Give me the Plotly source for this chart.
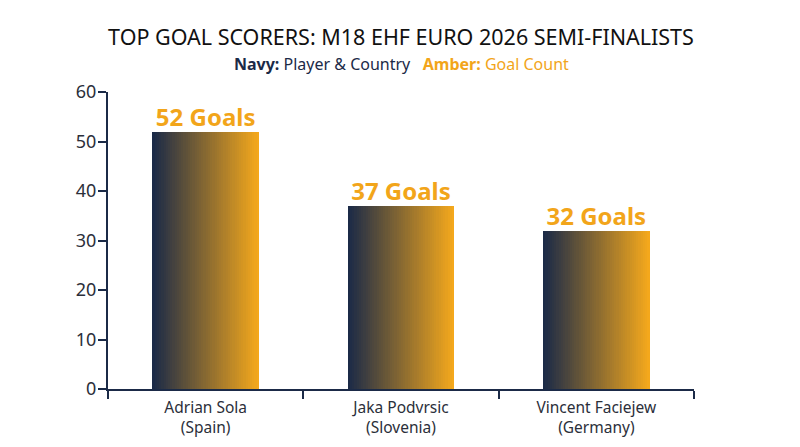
import plotly.graph_objects as go

# Data
players = ["Adrian Sola<br>(Spain)", "Jaka Podvrsic<br>(Slovenia)", "Vincent Faciejew<br>(Germany)"]
goals = [52, 37, 32]
goal_labels = ["52 Goals", "37 Goals", "32 Goals"]

NAVY = (27, 42, 71)
AMBER = (244, 168, 28)
FONT = "Noto Sans"


def mix(a, b, t):
    return "rgb({},{},{})".format(*[round(a[k] + (b[k] - a[k]) * t) for k in range(3)])


fig = go.Figure()

# Horizontal gradient: stack thin overlaid slices across each bar's width
bar_width = 0.545
n_slices = 48
step = bar_width / n_slices
for i in range(n_slices):
    fig.add_trace(go.Bar(
        x=players,
        y=goals,
        width=step * 1.05,
        offset=-bar_width / 2 + i * step,
        marker=dict(color=mix(NAVY, AMBER, i / (n_slices - 1)), line=dict(width=0)),
        showlegend=False,
        hoverinfo="skip",
    ))

# Goal labels above bars
fig.add_trace(go.Scatter(
    x=players,
    y=goals,
    text=goal_labels,
    mode="text",
    textposition="top center",
    textfont=dict(family=FONT, size=24, color="#f2a51a", weight="bold"),
    showlegend=False,
    hoverinfo="skip",
    cliponaxis=False,
))

fig.update_layout(
    width=800,
    height=447,
    barmode="overlay",
    bargap=0,
    plot_bgcolor="white",
    paper_bgcolor="white",
    font=dict(family=FONT, color="#333333"),
    margin=dict(l=100, r=114, t=84, b=66),
    title=dict(
        text="TOP GOAL SCORERS: M18 EHF EURO 2026 SEMI-FINALISTS",
        xref="paper", x=0.5, xanchor="center", y=0.933, yanchor="middle",
        font=dict(family=FONT, size=21.5, color="#111111"),
    ),
    annotations=[dict(
        text=("<b><span style='color:#1b2a47'>Navy:</span></b>"
              "<span style='color:#1b2a47'> Player &amp; Country</span>"
              "&nbsp;&nbsp;&nbsp;<b><span style='color:#f2a51a'>Amber:</span></b>"
              "<span style='color:#f2a51a'> Goal Count</span>"),
        xref="paper", yref="paper", x=0.5, y=1,
        yshift=28, xanchor="center", yanchor="middle",
        showarrow=False,
        font=dict(family=FONT, size=16),
    )],
    xaxis=dict(
        showline=True, linecolor="#1b2a47", linewidth=2,
        ticks="outside", tickson="boundaries", tickcolor="#1b2a47",
        ticklen=8, tickwidth=2, ticklabelstandoff=3,
        tickfont=dict(family=FONT, size=15.5, color="#2b2f3a"),
        showgrid=False,
    ),
    yaxis=dict(
        range=[0, 60], dtick=10,
        showline=True, linecolor="#1b2a47", linewidth=2,
        ticks="outside", tickcolor="#1b2a47", ticklen=8, tickwidth=2,
        ticklabelstandoff=-2,
        tickfont=dict(family=FONT, size=18, color="#2b2f3a"),
        showgrid=False, zeroline=False,
    ),
)

fig.write_html("out.html")
